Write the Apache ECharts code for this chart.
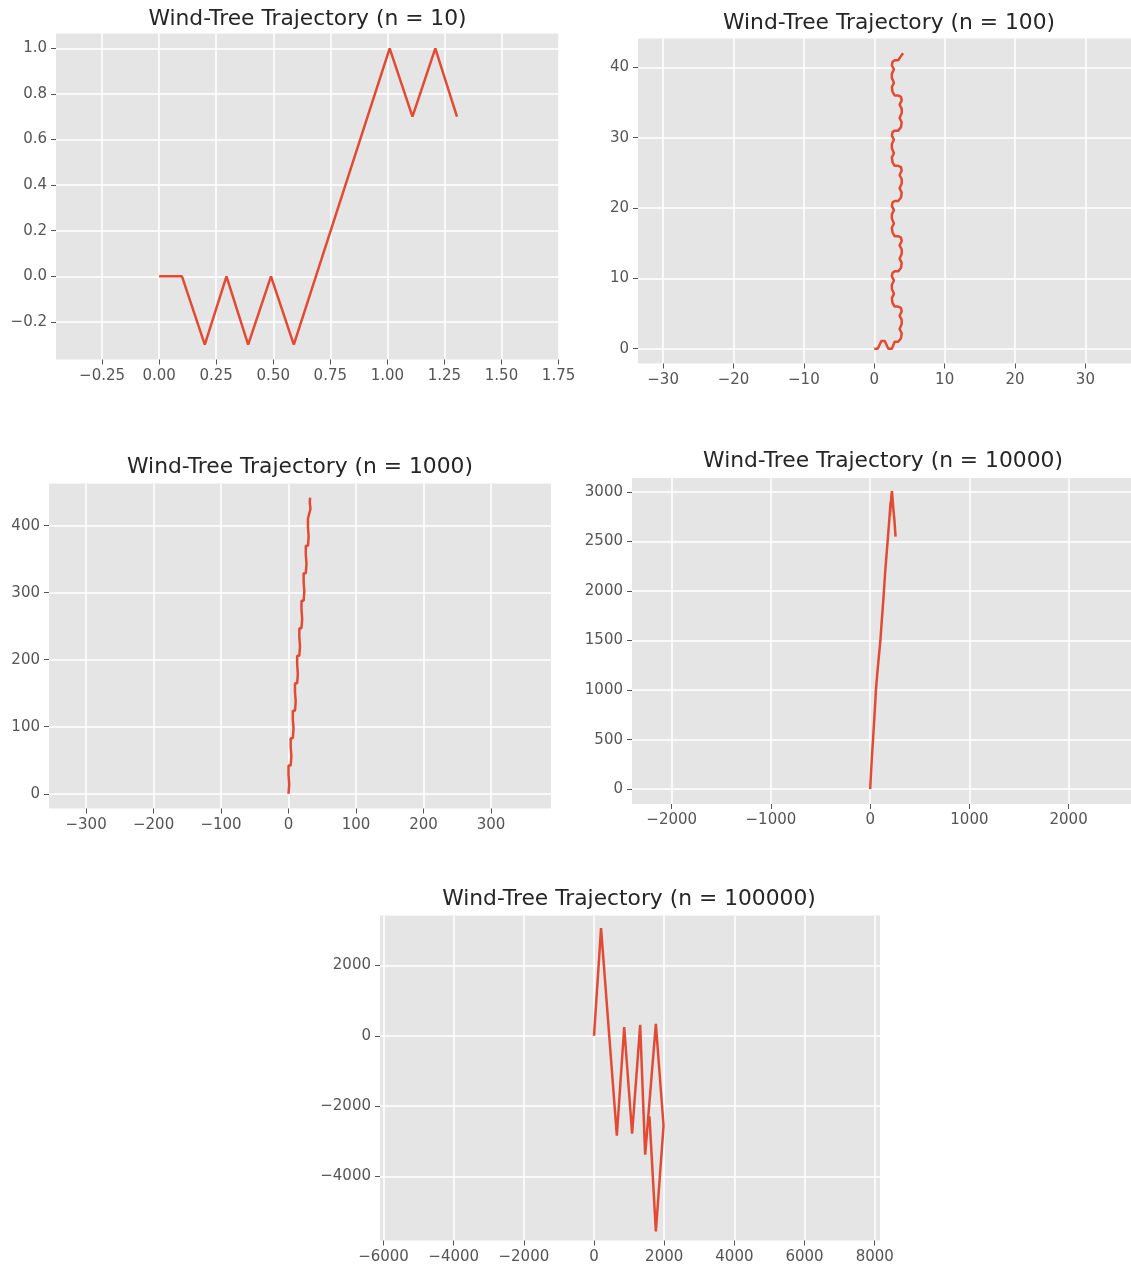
<!DOCTYPE html>
<html>
<head>
<meta charset="utf-8">
<script src="https://cdn.jsdelivr.net/npm/echarts@6/dist/echarts.min.js"></script>
<style>
html,body{margin:0;padding:0;background:#fff;}
#c{width:1131px;height:1275px;}
</style>
</head>
<body>
<div id="c"></div>
<script>
// ---------- data ----------
const titles = [
  'Wind-Tree Trajectory (n = 10)',
  'Wind-Tree Trajectory (n = 100)',
  'Wind-Tree Trajectory (n = 1000)',
  'Wind-Tree Trajectory (n = 10000)',
  'Wind-Tree Trajectory (n = 100000)'
];

// n = 10
const x10 = [0, 0.1, 0.2, 0.295, 0.39, 0.49, 0.59, 1.01, 1.11, 1.21, 1.305];
const y10 = [0, 0, -0.3, 0, -0.3, 0, -0.3, 1.0, 0.7, 1.0, 0.7];

// n = 100
const x100 = [0, 0.5, 1.0, 1.5, 2.0, 2.5, 2.9, 3.4,
  3.8, 3.9, 3.6, 3.9, 3.9, 3.6, 3.9, 3.8, 3.4, 2.9,
  2.6, 2.5, 2.8, 2.5, 2.5, 2.8, 2.5, 2.6, 2.9, 3.4,
  3.8, 3.9, 3.6, 3.9, 3.9, 3.6, 3.9, 3.8, 3.4, 2.9,
  2.6, 2.5, 2.8, 2.5, 2.5, 2.8, 2.5, 2.6, 2.9, 3.4,
  3.8, 3.9, 3.6, 3.9, 3.9, 3.6, 3.9, 3.8, 3.4, 2.9,
  2.6, 2.5, 2.8, 2.5, 2.5, 2.8, 2.5, 2.6, 2.9, 3.4,
  3.8, 3.9, 3.6, 3.9, 3.9, 3.6, 3.9, 3.8, 3.4, 2.9,
  2.6, 2.5, 2.8, 2.5, 2.5, 2.8, 2.5, 2.6, 2.9, 3.4,
  3.8, 4.1];
const y100 = [0, 0, 1.1, 1.1, 0, 0, 1.0, 1.0,
  1.5, 2.2, 2.8, 3.5, 4.1, 4.7, 5.3, 5.8, 6.0, 6.0,
  6.5, 7.2, 7.8, 8.5, 9.1, 9.7, 10.3, 10.8, 11.0, 11.0,
  11.5, 12.2, 12.8, 13.5, 14.1, 14.7, 15.3, 15.8, 16.0, 16.0,
  16.5, 17.2, 17.8, 18.5, 19.1, 19.7, 20.3, 20.8, 21.0, 21.0,
  21.5, 22.2, 22.8, 23.5, 24.1, 24.7, 25.3, 25.8, 26.0, 26.0,
  26.5, 27.2, 27.8, 28.5, 29.1, 29.7, 30.3, 30.8, 31.0, 31.0,
  31.5, 32.2, 32.8, 33.5, 34.1, 34.7, 35.3, 35.8, 36.0, 36.0,
  36.5, 37.2, 37.8, 38.5, 39.1, 39.7, 40.3, 40.8, 41.0, 41.0,
  41.6, 42.0];

// n = 1000
const x1000 = [0, 1, 0, 0, 3.2, 4.2, 3.2, 3.2, 6.4, 7.4, 6.4, 6.4, 9.6, 10.6, 9.6, 9.6, 12.8,
  13.8, 12.8, 12.8, 16, 17, 16, 16, 19.2, 20.2, 19.2, 19.2, 22.4, 23.4, 22.4, 22.4, 25.6,
  26.6, 25.6, 25.6, 28.8, 29.8, 28.8, 28.8, 31.5, 32.5, 31.5, 32];
const y1000 = [0, 14, 28, 42, 42, 56, 70, 83, 83, 97, 111, 124, 124, 138, 152, 165, 165,
  179, 193, 206, 206, 220, 234, 247, 247, 261, 275, 288, 288, 302, 316, 329, 329,
  343, 357, 370, 370, 384, 398, 411, 411, 425, 435, 442];

// n = 10000
const x10000 = [0, 8, 18, 29, 40, 50, 58, 72, 88, 103, 115, 127, 139, 150, 162, 176, 190, 206, 200, 214, 220, 232, 244, 256];
const y10000 = [0, 150, 330, 500, 680, 850, 1000, 1170, 1340, 1500, 1670, 1830, 2000, 2170, 2330, 2500, 2680, 2900, 2760, 2960, 3010, 2850, 2720, 2550];

// n = 100000
const x100000 = [0, 200, 650, 860, 1085, 1315, 1457, 1762, 1981, 1762, 1580];
const y100000 = [0, 3060, -2840, 250, -2785, 310, -3380, 340, -2557, -5560, -2290];

// ticks
const xTicks10 = [-0.25, 0, 0.25, 0.5, 0.75, 1.0, 1.25, 1.5, 1.75];
const xLabels10 = ['\u22120.25', '0.00', '0.25', '0.50', '0.75', '1.00', '1.25', '1.50', '1.75'];
const yTicks10 = [-0.2, 0, 0.2, 0.4, 0.6, 0.8, 1.0];
const yLabels10 = ['\u22120.2', '0.0', '0.2', '0.4', '0.6', '0.8', '1.0'];

const xTicks100 = [-30, -20, -10, 0, 10, 20, 30];
const xLabels100 = ['\u221230', '\u221220', '\u221210', '0', '10', '20', '30'];
const yTicks100 = [0, 10, 20, 30, 40];
const yLabels100 = ['0', '10', '20', '30', '40'];

const xTicks1000 = [-300, -200, -100, 0, 100, 200, 300];
const xLabels1000 = ['\u2212300', '\u2212200', '\u2212100', '0', '100', '200', '300'];
const yTicks1000 = [0, 100, 200, 300, 400];
const yLabels1000 = ['0', '100', '200', '300', '400'];

const xTicks10000 = [-2000, -1000, 0, 1000, 2000];
const xLabels10000 = ['\u22122000', '\u22121000', '0', '1000', '2000'];
const yTicks10000 = [0, 500, 1000, 1500, 2000, 2500, 3000];
const yLabels10000 = ['0', '500', '1000', '1500', '2000', '2500', '3000'];

const xTicks100000 = [-6000, -4000, -2000, 0, 2000, 4000, 6000, 8000];
const xLabels100000 = ['\u22126000', '\u22124000', '\u22122000', '0', '2000', '4000', '6000', '8000'];
const yTicks100000 = [-4000, -2000, 0, 2000];
const yLabels100000 = ['\u22124000', '\u22122000', '0', '2000'];

// ---------- layout ----------
const panels = [
  {xs: x10, ys: y10, xt: xTicks10, xl: xLabels10, yt: yTicks10, yl: yLabels10,
   grid: {left: 56, top: 33.5, width: 503, height: 326}, xr: [-0.452, 1.752], yr: [-0.365, 1.065], tc: [307.5, 19]},
  {xs: x100, ys: y100, xt: xTicks100, xl: xLabels100, yt: yTicks100, yl: yLabels100,
   grid: {left: 638, top: 38.5, width: 493, height: 325}, xr: [-33.57, 36.48], yr: [-2.1, 44.1], tc: [889, 23]},
  {xs: x1000, ys: y1000, xt: xTicks1000, xl: xLabels1000, yt: yTicks1000, yl: yLabels1000,
   grid: {left: 49, top: 483.5, width: 502, height: 325}, xr: [-355, 389], yr: [-22, 463], tc: [300, 467]},
  {xs: x10000, ys: y10000, xt: xTicks10000, xl: xLabels10000, yt: yTicks10000, yl: yLabels10000,
   grid: {left: 632, top: 478, width: 499, height: 326}, xr: [-2400, 2628.7], yr: [-150, 3141], tc: [883, 461]},
  {xs: x100000, ys: y100000, xt: xTicks100000, xl: xLabels100000, yt: yTicks100000, yl: yLabels100000,
   grid: {left: 380, top: 915.5, width: 500, height: 325}, xr: [-6100, 8150], yr: [-5820, 3420], tc: [629, 899.5]}
];

const FONT = 'DejaVu Sans';
function labelFor(ticks, labels) {
  return function (v) {
    for (let i = 0; i < ticks.length; i++) {
      if (Math.abs(ticks[i] - v) < 1e-9 * Math.max(1, Math.abs(v))) return labels[i];
    }
    return '';
  };
}
function axis(ticks, labels, range, gridIndex) {
  return {
    type: 'value', gridIndex: gridIndex, min: range[0], max: range[1],
    axisLine: {show: false, onZero: false},
    axisTick: {show: true, length: 5, customValues: ticks, lineStyle: {color: '#555555', width: 1}},
    axisLabel: {show: true, customValues: ticks, formatter: labelFor(ticks, labels),
      color: '#555555', fontSize: 15, fontFamily: FONT, margin: 9},
    splitLine: {show: true, lineStyle: {color: '#ffffff', width: 1.5}}
  };
}

const option = {
  animation: false,
  backgroundColor: '#ffffff',
  title: panels.map((p, i) => ({
    text: titles[i], left: p.tc[0], top: p.tc[1], textAlign: 'center', textVerticalAlign: 'middle',
    padding: 0, textStyle: {fontFamily: FONT, fontSize: 21.8, fontWeight: 'normal', color: '#262626'}
  })),
  grid: panels.map(p => Object.assign({show: true, backgroundColor: '#E5E5E5', borderWidth: 0, containLabel: false}, p.grid)),
  xAxis: panels.map((p, i) => axis(p.xt, p.xl, p.xr, i)),
  yAxis: panels.map((p, i) => axis(p.yt, p.yl, p.yr, i)),
  series: panels.map((p, i) => ({
    type: 'line', xAxisIndex: i, yAxisIndex: i, showSymbol: false, symbol: 'none',
    lineStyle: {color: '#E24A33', width: 2.5}, itemStyle: {color: '#E24A33'},
    data: p.xs.map((x, k) => [x, p.ys[k]]), clip: true
  }))
};

const chart = echarts.init(document.getElementById('c'), null, {renderer: 'canvas'});
chart.setOption(option);
</script>
</body>
</html>
